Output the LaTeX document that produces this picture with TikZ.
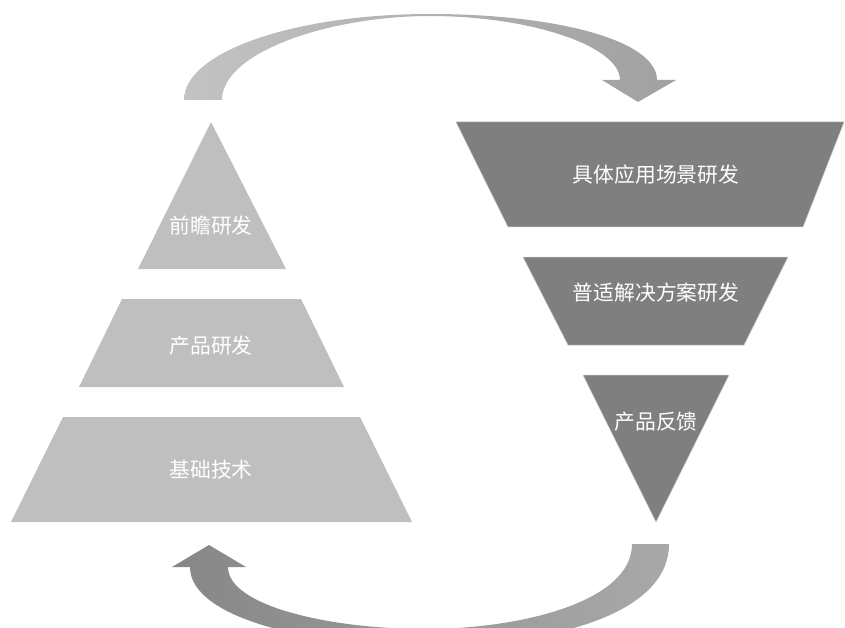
\documentclass[tikz,border=0pt]{standalone}
\usepackage{fontspec}
\newfontfamily\cjk{Noto Sans CJK SC}
\usepackage{tikz}

\definecolor{pyrgray}{HTML}{BFBFBF}
\definecolor{fungray}{HTML}{7F7F7F}
\definecolor{edgegray}{HTML}{C8C8C8}

\tikzset{
  pyrlayer/.style={fill=pyrgray},
  funlayer/.style={fill=fungray, draw=edgegray, line width=0.5pt},
  layertext/.style={text=white, font=\cjk\fontsize{20.8}{24}\selectfont, inner sep=0pt},
}

\begin{document}
\begin{tikzpicture}[x=1pt,y=-1pt]
  \useasboundingbox (0,0) rectangle (845,628);
  \clip (0,0) rectangle (845,628);

  % left pyramid
  \fill[pyrlayer] (211,122) -- (286,269) -- (138,269) -- cycle;
  \fill[pyrlayer] (122,299) -- (301,299) -- (344,387) -- (79,387) -- cycle;
  \fill[pyrlayer] (63,417) -- (360,417) -- (412,522) -- (11,522) -- cycle;
  \node (foresight) at (211,226) [layertext] {前瞻研发};
  \node (product)   at (211,346) [layertext] {产品研发};
  \node (basic)     at (211,470) [layertext] {基础技术};

  % right funnel
  \filldraw[funlayer] (456,122) -- (844,122) -- (803,227) -- (508,227) -- cycle;
  \filldraw[funlayer] (523,257) -- (788,257) -- (744,345) -- (568,345) -- cycle;
  \filldraw[funlayer] (583,375) -- (729,375) -- (656,522) -- cycle;
  \node (scenario) at (656,175) [layertext] {具体应用场景研发};
  \node (general)  at (656,293) [layertext] {普适解决方案研发};
  \node (feedback) at (656,422) [layertext] {产品反馈};

  % upper arrow
  \shade[left color=pyrgray!95!white, right color=black!37]
    (184,100) .. controls (184,52) and (294,14) .. (430,14)
    .. controls (555,14) and (657,40) .. (657,80)
    -- (676,80) -- (638,102) -- (602,80) -- (620,80)
    .. controls (620,46) and (530,16) .. (430,16)
    .. controls (330,16) and (222,52) .. (222,100) -- cycle;

  % lower arrow
  \shade[left color=black!47, right color=black!34]
    (669,544) .. controls (669,612) and (560,645) .. (425,646)
    .. controls (310,646) and (190,618) .. (190,567)
    -- (172,567) -- (209,545) -- (246,567) -- (228,567)
    .. controls (228,606) and (330,629) .. (425,629)
    .. controls (520,629) and (632,602) .. (632,544) -- cycle;
\end{tikzpicture}
\end{document}
